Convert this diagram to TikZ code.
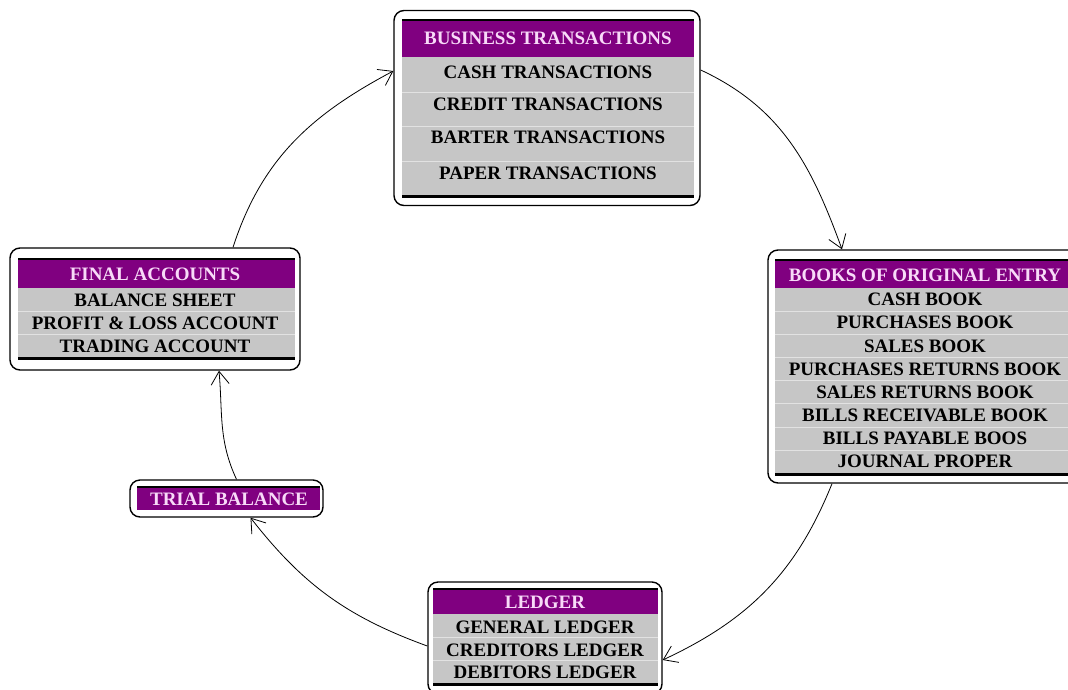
\documentclass[tikz,border=0pt]{standalone}
\usepackage{fontspec}
\setmainfont{Liberation Serif}
\usetikzlibrary{arrows.meta}

\definecolor{hdpurple}{RGB}{128,0,128}
\definecolor{hdpink}{RGB}{248,218,248}
\definecolor{rowgrey}{RGB}{198,198,198}
\definecolor{rowrule}{RGB}{226,226,226}

\tikzset{
  boxframe/.style={draw=black, line width=1.4pt, rounded corners=10pt, fill=white, inner sep=0pt},
  headlabel/.style={font=\fontsize{19}{19}\selectfont\bfseries, text=hdpink, inner sep=0pt, text height=12.6pt, text depth=0pt},
  rowlabel/.style={font=\fontsize{19}{19}\selectfont\bfseries, text=black, inner sep=0pt, text height=12.6pt, text depth=0pt},
  flow/.style={-{Straight Barb[length=13pt,width=18pt]}, line width=0.8pt}
}

\begin{document}
\begin{tikzpicture}[x=1pt,y=1pt]
  \useasboundingbox (0,0) rectangle (1068,-689);

  % business transactions
  \node[boxframe, minimum width=306pt, minimum height=195pt] (bt) at (547,-108) {};
  \fill[hdpurple] (402,-21) rectangle (694,-57);
  \fill[rowgrey] (402,-57) rectangle (694,-195);
  \foreach \y in {92,126,161}{
    \draw[rowrule] (402,-\y) -- (694,-\y);
  }
  \draw[line width=2.5pt] (402,-20) -- (694,-20);
  \draw[line width=3pt] (402,-196.5) -- (694,-196.5);
  \node[headlabel] (bt-head) at (548,-38) {BUSINESS TRANSACTIONS};
  \foreach \t/\y [count=\i] in {CASH TRANSACTIONS/72, CREDIT TRANSACTIONS/104,
      BARTER TRANSACTIONS/137, PAPER TRANSACTIONS/173}{
    \node[rowlabel] (bt-\i) at (548,-\y) {\t};
  }

  % books of original entry
  \node[boxframe, minimum width=310pt, minimum height=233pt] (bo) at (923,-366.5) {};
  \fill[hdpurple] (775,-261) rectangle (1075,-288);
  \fill[rowgrey] (775,-288) rectangle (1075,-473);
  \foreach \k in {1,...,7}{
    \draw[rowrule] (775,{-288-23.125*\k}) -- (1075,{-288-23.125*\k});
  }
  \draw[line width=2pt] (775,-260) -- (1075,-260);
  \draw[line width=3pt] (775,-474.5) -- (1075,-474.5);
  \node[headlabel] (bo-head) at (925,-275) {BOOKS OF ORIGINAL ENTRY};
  \foreach \t [count=\i] in {CASH BOOK, PURCHASES BOOK, SALES BOOK,
      PURCHASES RETURNS BOOK, SALES RETURNS BOOK, BILLS RECEIVABLE BOOK,
      BILLS PAYABLE BOOS, JOURNAL PROPER}{
    \node[rowlabel] (bo-\i) at (925,{-299.5-23.125*(\i-1)}) {\t};
  }

  % final accounts
  \node[boxframe, minimum width=290pt, minimum height=122pt] (fa) at (155,-309) {};
  \fill[hdpurple] (18,-260) rectangle (295,-288);
  \fill[rowgrey] (18,-288) rectangle (295,-357);
  \foreach \y in {311,334}{
    \draw[rowrule] (18,-\y) -- (295,-\y);
  }
  \draw[line width=2pt] (18,-259) -- (295,-259);
  \draw[line width=3pt] (18,-358.5) -- (295,-358.5);
  \node[headlabel] (fa-head) at (155,-274) {FINAL ACCOUNTS};
  \foreach \t/\y [count=\i] in {BALANCE SHEET/300, PROFIT \& LOSS ACCOUNT/323,
      TRADING ACCOUNT/346}{
    \node[rowlabel] (fa-\i) at (155,-\y) {\t};
  }

  % trial balance
  \node[boxframe, minimum width=193pt, minimum height=37pt] (tb) at (226.5,-498.5) {};
  \fill[hdpurple] (137,-488) rectangle (320,-510);
  \draw[line width=2pt] (137,-487) -- (320,-487);
  \node[headlabel] (tb-head) at (229,-499) {TRIAL BALANCE};

  % ledger
  \node[boxframe, minimum width=234pt, minimum height=112pt] (le) at (545,-638) {};
  \fill[hdpurple] (433,-590) rectangle (658,-614);
  \fill[rowgrey] (433,-614) rectangle (658,-683);
  \foreach \y in {637,660}{
    \draw[rowrule] (433,-\y) -- (658,-\y);
  }
  \draw[line width=2pt] (433,-589) -- (658,-589);
  \draw[line width=3pt] (433,-684.5) -- (658,-684.5);
  \node[headlabel] (le-head) at (545,-602) {LEDGER};
  \foreach \t/\y [count=\i] in {GENERAL LEDGER/627, CREDITORS LEDGER/650,
      DEBITORS LEDGER/672}{
    \node[rowlabel] (le-\i) at (545,-\y) {\t};
  }

  % the cycle
  \draw[flow] ([xshift=78pt]fa.north) to[out=72,in=208] ([yshift=37pt]bt.west);
  \draw[flow] ([yshift=38pt]bt.east) to[out=-25,in=110] ([xshift=-81pt]bo.north);
  \draw[flow] ([xshift=-91pt]bo.south) to[out=-112,in=25] ([yshift=-22pt]le.east);
  \draw[flow] ([yshift=-8pt]le.west) to[out=160,in=-52] ([xshift=24pt]tb.south);
  \draw[flow] ([xshift=10pt]tb.north) to[out=115,in=-85] ([xshift=64pt]fa.south);
\end{tikzpicture}
\end{document}
